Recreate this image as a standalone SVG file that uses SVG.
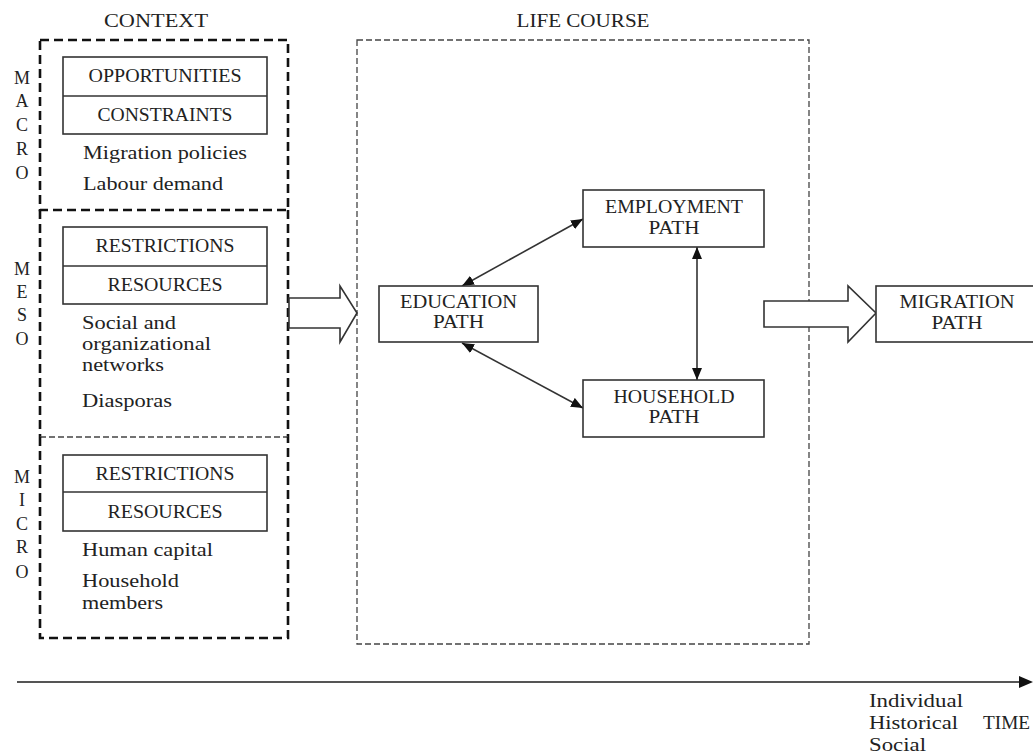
<svg xmlns="http://www.w3.org/2000/svg" width="1033" height="753" viewBox="0 0 1033 753">
<style>
text{font-family:"Liberation Serif","Times New Roman",serif;fill:#222;font-size:18px}
.c{text-anchor:middle}
.h{font-size:19px}
.box{fill:#fff;stroke:#333;stroke-width:1.6}
.thick{fill:none;stroke:#111;stroke-width:2.6;stroke-dasharray:9 5}
.thin{fill:none;stroke:#444;stroke-width:1.3;stroke-dasharray:6 3}
.line{stroke:#333;stroke-width:1.6;fill:none}
.hollow{fill:#fff;stroke:#333;stroke-width:1.6}
</style>
<defs>
<marker id="ah" viewBox="0 0 12 10" refX="12" refY="5" markerWidth="12" markerHeight="10" markerUnits="userSpaceOnUse" orient="auto-start-reverse">
<path d="M0,0 L12,5 L0,10 Z" fill="#111"/>
</marker>
</defs>
<rect width="1033" height="753" fill="#fff"/>

<text class="h c" x="156" y="27" textLength="104" lengthAdjust="spacingAndGlyphs">CONTEXT</text>
<text class="h c" x="583" y="27" textLength="133" lengthAdjust="spacingAndGlyphs">LIFE COURSE</text>

<g id="context-frame">
<rect class="thick" x="40" y="40" width="248" height="170"/>
<line class="thick" x1="40" y1="210" x2="40" y2="437"/>
<line class="thick" x1="288" y1="210" x2="288" y2="437"/>
<line class="thin" x1="40" y1="437" x2="288" y2="437"/>
<path class="thick" d="M40,437 V638 H288 V437"/>
</g>

<g id="level-labels">
<text class="c" x="22" y="84">M</text><text class="c" x="22" y="107">A</text><text class="c" x="22" y="131">C</text><text class="c" x="22" y="155">R</text><text class="c" x="22" y="179">O</text>
<text class="c" x="22" y="275">M</text><text class="c" x="22" y="298">E</text><text class="c" x="22" y="321">S</text><text class="c" x="22" y="345">O</text>
<text class="c" x="22" y="483">M</text><text class="c" x="22" y="506">I</text><text class="c" x="22" y="530">C</text><text class="c" x="22" y="553">R</text><text class="c" x="22" y="578">O</text>
</g>

<g id="macro">
<rect class="box" x="63" y="57" width="204" height="77"/>
<line class="line" x1="63" y1="96" x2="267" y2="96"/>
<text class="c" x="165" y="82" textLength="153" lengthAdjust="spacingAndGlyphs">OPPORTUNITIES</text>
<text class="c" x="165" y="121" textLength="135" lengthAdjust="spacingAndGlyphs">CONSTRAINTS</text>
<text x="83" y="159" textLength="164" lengthAdjust="spacingAndGlyphs">Migration policies</text>
<text x="83" y="190" textLength="140" lengthAdjust="spacingAndGlyphs">Labour demand</text>
</g>

<g id="meso">
<rect class="box" x="63" y="227" width="204" height="77"/>
<line class="line" x1="63" y1="266" x2="267" y2="266"/>
<text class="c" x="165" y="252" textLength="139" lengthAdjust="spacingAndGlyphs">RESTRICTIONS</text>
<text class="c" x="165" y="291" textLength="115" lengthAdjust="spacingAndGlyphs">RESOURCES</text>
<text x="82" y="329" textLength="94" lengthAdjust="spacingAndGlyphs">Social and</text>
<text x="82" y="350" textLength="129" lengthAdjust="spacingAndGlyphs">organizational</text>
<text x="82" y="371" textLength="82" lengthAdjust="spacingAndGlyphs">networks</text>
<text x="82" y="407" textLength="90" lengthAdjust="spacingAndGlyphs">Diasporas</text>
</g>

<g id="micro">
<rect class="box" x="63" y="455" width="204" height="76"/>
<line class="line" x1="63" y1="492" x2="267" y2="492"/>
<text class="c" x="165" y="480" textLength="139" lengthAdjust="spacingAndGlyphs">RESTRICTIONS</text>
<text class="c" x="165" y="518" textLength="115" lengthAdjust="spacingAndGlyphs">RESOURCES</text>
<text x="82" y="556" textLength="131" lengthAdjust="spacingAndGlyphs">Human capital</text>
<text x="82" y="587" textLength="97" lengthAdjust="spacingAndGlyphs">Household</text>
<text x="82" y="609" textLength="81" lengthAdjust="spacingAndGlyphs">members</text>
</g>

<g id="life-course-frame">
<rect class="thin" x="357" y="40" width="452" height="604"/>
</g>

<g id="connectors">
<polygon class="hollow" points="289,298 340,298 340,286 357,313 340,342 340,328 289,328"/>
<polygon class="hollow" points="764,301 848,301 848,286 876,313 848,342 848,327 764,327"/>
<line class="line" x1="462" y1="286" x2="583" y2="219" marker-start="url(#ah)" marker-end="url(#ah)"/>
<line class="line" x1="462" y1="343" x2="583" y2="408" marker-start="url(#ah)" marker-end="url(#ah)"/>
<line class="line" x1="697" y1="247" x2="697" y2="380" marker-start="url(#ah)" marker-end="url(#ah)"/>
<line x1="17" y1="682" x2="1022" y2="682" stroke="#555" stroke-width="2"/>
<polygon points="1019,676 1033,682 1019,688" fill="#111"/>
</g>

<g id="education">
<rect class="box" x="379" y="286" width="159" height="56"/>
<text class="c" x="458.5" y="308" textLength="117" lengthAdjust="spacingAndGlyphs">EDUCATION</text>
<text class="c" x="458.5" y="328" textLength="51" lengthAdjust="spacingAndGlyphs">PATH</text>
</g>

<g id="employment">
<rect class="box" x="583" y="190" width="181" height="57"/>
<text class="c" x="674" y="213" textLength="138" lengthAdjust="spacingAndGlyphs">EMPLOYMENT</text>
<text class="c" x="674" y="234" textLength="51" lengthAdjust="spacingAndGlyphs">PATH</text>
</g>

<g id="household">
<rect class="box" x="583" y="380" width="181" height="57"/>
<text class="c" x="674" y="403" textLength="121" lengthAdjust="spacingAndGlyphs">HOUSEHOLD</text>
<text class="c" x="674" y="423" textLength="51" lengthAdjust="spacingAndGlyphs">PATH</text>
</g>

<g id="migration">
<rect class="box" x="876" y="286" width="170" height="56"/>
<text class="c" x="957" y="308" textLength="115" lengthAdjust="spacingAndGlyphs">MIGRATION</text>
<text class="c" x="957" y="329" textLength="51" lengthAdjust="spacingAndGlyphs">PATH</text>
</g>

<g id="time-labels">
<text x="869" y="707" textLength="94" lengthAdjust="spacingAndGlyphs">Individual</text>
<text x="869" y="729" textLength="89" lengthAdjust="spacingAndGlyphs">Historical</text>
<text x="869" y="751" textLength="57" lengthAdjust="spacingAndGlyphs">Social</text>
<text x="983" y="729" textLength="47" lengthAdjust="spacingAndGlyphs">TIME</text>
</g>
</svg>
